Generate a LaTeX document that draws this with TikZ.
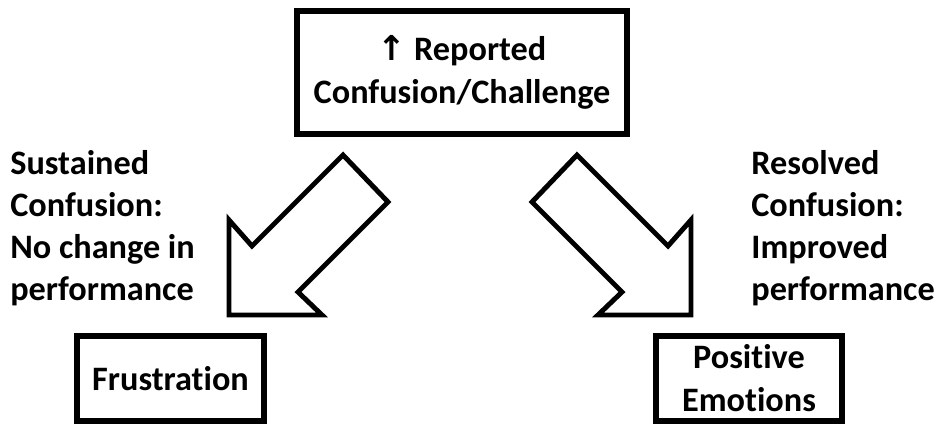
\documentclass[tikz,border=0pt]{standalone}
\usepackage{fontspec}
\setmainfont[Ligatures={NoCommon,NoRare,NoContextual}]{Carlito}
\newfontfamily\symfont{DejaVu Sans}
\tikzset{
  box/.style={draw, line width=3.4pt, align=center, inner sep=0pt,
    font=\fontsize{19.5}{24.5}\selectfont\bfseries},
  note/.style={anchor=north west, align=left, inner sep=0pt,
    font=\fontsize{19.5}{24}\selectfont\bfseries},
  blockarrow/.style={draw, line width=2.8pt, line join=miter, fill=white}
}
\begin{document}
\begin{tikzpicture}[x=0.02cm, y=-0.02cm]
    \useasboundingbox (0,0) rectangle (938,426);

    % Boxes
    \node[box, minimum width=6.6cm, minimum height=2.46cm] (report) at (462,72.5)
        {{\symfont ↑} Reported\\Confusion/Challenge};
    \node[box, minimum width=3.74cm, minimum height=1.7cm] (frust) at (170.5,378.5) {Frustration};
    \node[box, minimum width=3.72cm, minimum height=1.7cm] (posemo) at (749,378.5) {Positive\\Emotions};

    % Block arrows
    \draw[blockarrow] (343,155) -- (388,202) -- (298,292) -- (322,315)
        -- (229,315) -- (229,220) -- (252,246) -- cycle;
    \draw[blockarrow] (577,155) -- (532,202) -- (622,292) -- (598,315)
        -- (691,315) -- (691,220) -- (668,246) -- cycle;

    % Labels beside the arrows
    \node[note] (sust) at (10,150) {Sustained\\Confusion:\\No change in\\performance};
    \node[note] (resol) at (751,150) {Resolved\\Confusion:\\Improved\\performance};
\end{tikzpicture}
\end{document}
